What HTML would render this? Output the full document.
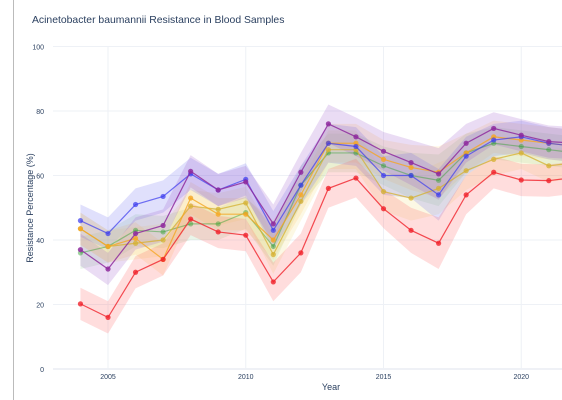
<!DOCTYPE html>
<html><head><meta charset="utf-8"><style>
body{margin:0;background:#fff;}
svg{font-family:"Liberation Sans",sans-serif;display:block;}
</style></head><body>
<svg id="chart" width="562" height="400">
<rect x="13" y="0" width="1" height="400" fill="#bbb"/>
<text x="32" y="23" font-size="10.4" fill="#2a3f5f">Acinetobacter baumannii Resistance in Blood Samples</text>
<text x="331" y="390" font-size="9" fill="#2a3f5f" text-anchor="middle">Year</text>
<text transform="translate(33,208) rotate(-90)" font-size="9" fill="#2a3f5f" text-anchor="middle">Resistance Percentage (%)</text>
<g id="grid"></g><g id="bands"></g><g id="lines"></g><g id="ticks"></g>
</svg>
<script>
const years=[2004,2005,2006,2007,2008,2009,2010,2011,2012,2013,2014,2015,2016,2017,2018,2019,2020,2021,2022];
const yTicks=[0,20,40,60,80,100];
const xTicks=[2005,2010,2015,2020];
const redVals=[20.2,16,30,34,46.5,42.5,41.5,27,36,56,59.2,49.7,43,39,54,61,58.6,58.4,59.5];
const blueVals=[46,42,51,53.5,60.5,55.5,58.8,43,57,70,69,60,60,54,66,71,72,70,69];
const purpleVals=[37,31,42,44.5,61.3,55.5,58,45,61,76,72,67.5,64,60.5,70,74.6,72.5,70.5,70];
const orangeVals=[43.5,38,40.5,34,53,48,48,40,54,70,70,65,62.5,61,67,72,71,70,69];
const goldVals=[43.5,38,39,40,50.5,49.5,51.5,35.5,52,68,68,55,53,56,61.5,65,67,63,64];
const greenVals=[36,38,43,42.5,45,45,48.5,38,57,67,67,63,60,58.5,67,70,69,68,67];
const ciHalf=[5,5,5,5,5,5,5,6,6,6,6,6,7,8,6,5,5,5,5];
const series=[
 {name:'green',vals:greenVals,c:'#2ca02c',f:'rgba(44,160,44,0.1)',o:0.45},
 {name:'gold',vals:goldVals,c:'#d4b030',f:'rgba(240,220,120,0.2)',o:0.75},
 {name:'orange',vals:orangeVals,c:'#f5a623',f:'rgba(255,200,100,0.2)',o:0.8},
 {name:'blue',vals:blueVals,c:'#3a3aee',f:'rgba(100,100,240,0.2)',o:0.7},
 {name:'purple',vals:purpleVals,c:'#8e2a9e',f:'rgba(150,80,200,0.2)',o:0.85},
 {name:'red',vals:redVals,c:'#f0222a',f:'rgba(255,100,100,0.22)',o:0.8}
];
const X=v=>108+(v-2005)*27.55;
const Y=v=>369-v*3.225;
const NS='http://www.w3.org/2000/svg';
function mk(t,a,p){const e=document.createElementNS(NS,t);for(const k in a)e.setAttribute(k,a[k]);p.appendChild(e);return e;}
const grid=document.getElementById('grid'),ticks=document.getElementById('ticks');
yTicks.forEach(t=>{
 const l=mk('line',{x1:53,x2:562,y1:Y(t),y2:Y(t),stroke:t===0?'#dfe3ec':'#eef1f6','stroke-width':1},grid);
 
 
 const tx=mk('text',{x:44,y:Y(t)+3,'font-size':7,fill:'#2a3f5f','text-anchor':'end'},ticks);tx.textContent=t;
 
 
});
xTicks.forEach(t=>{
 const l=mk('line',{x1:X(t),x2:X(t),y1:47,y2:369,stroke:'#eef1f6','stroke-width':1},grid);
 
 
 const tx=mk('text',{x:X(t),y:379,'font-size':7,fill:'#2a3f5f','text-anchor':'middle'},ticks);tx.textContent=t;
 
 
});
const bands=document.getElementById('bands'),lines=document.getElementById('lines');
series.forEach(s=>{
 const up=years.map((y,i)=>X(y)+','+Y(s.vals[i]+ciHalf[i]));
 const lo=years.map((y,i)=>X(y)+','+Y(s.vals[i]-ciHalf[i])).reverse();
 const b=mk('polygon',{points:up.concat(lo).join(' '),fill:s.f},bands);
 
 
});
series.forEach(s=>{
 const p=mk('polyline',{points:years.map((y,i)=>X(y)+','+Y(s.vals[i])).join(' '),fill:'none',stroke:s.c,'stroke-width':1.2,opacity:s.o},lines);
 
 
 years.forEach((y,i)=>{
  const c=mk('circle',{cx:X(y),cy:Y(s.vals[i]),r:2.6,fill:s.c,opacity:s.o},lines);
  
  
 });
});
</script>
</body></html>
